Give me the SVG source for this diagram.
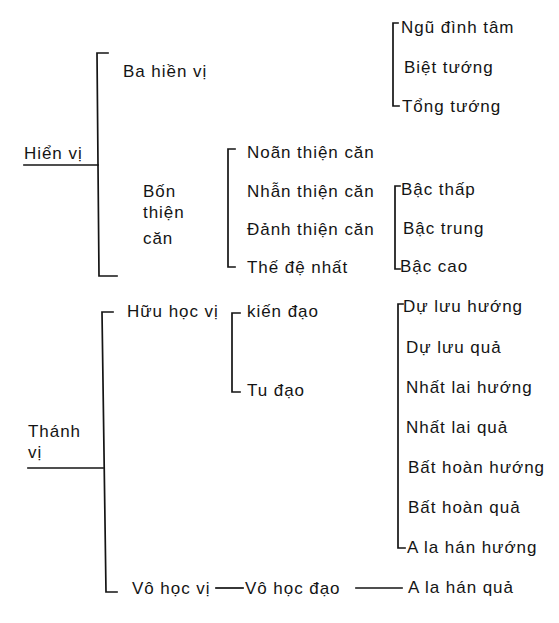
<svg xmlns="http://www.w3.org/2000/svg" width="559" height="623" viewBox="0 0 559 623">
<style>
text{font-family:"Liberation Sans","Arial",sans-serif;font-size:17px;letter-spacing:0.95px;fill:#141414}
.ln{fill:none;stroke:#141414;stroke-width:1.7;stroke-linecap:square;stroke-linejoin:miter}
</style>
<rect width="559" height="623" fill="#ffffff"/>
<g id="connectors">
  <path class="ln" d="M24,165 H98"/>
  <path class="ln" d="M108,53 H97 L99,276 H117"/>
  <path class="ln" d="M398,23 H393 V106 H399"/>
  <path class="ln" d="M235,149 H228 V267 H235"/>
  <path class="ln" d="M400,186 H395 V269 H400"/>
  <path class="ln" d="M28,468 H103"/>
  <path class="ln" d="M113,312 H102 L106,592 H117"/>
  <path class="ln" d="M240,313 H232 V392 H240"/>
  <path class="ln" d="M403,304 H398 V548 H405"/>
  <path class="ln" d="M216,588 H243"/>
  <path class="ln" d="M356,588 H402"/>
</g>
<g id="hien-vi"><text x="24" y="159">Hiển vị</text></g>
<g id="ba-hien-vi"><text x="123" y="77">Ba hiền vị</text></g>
<g id="ngu-dinh-tam"><text x="401" y="33">Ngũ đình tâm</text></g>
<g id="biet-tuong"><text x="404" y="73">Biệt tướng</text></g>
<g id="tong-tuong"><text x="402" y="112">Tổng tướng</text></g>
<g id="bon-thien-can"><text x="143" y="197">Bốn</text><text x="143" y="218">thiện</text><text x="143" y="244">căn</text></g>
<g id="noan-thien-can"><text x="247" y="158">Noãn thiện căn</text></g>
<g id="nhan-thien-can"><text x="247" y="197">Nhẫn thiện căn</text></g>
<g id="danh-thien-can"><text x="247" y="235">Đảnh thiện căn</text></g>
<g id="the-de-nhat"><text x="247" y="273">Thế đệ nhất</text></g>
<g id="bac-thap"><text x="401" y="195">Bậc thấp</text></g>
<g id="bac-trung"><text x="403" y="234">Bậc trung</text></g>
<g id="bac-cao"><text x="400" y="272">Bậc cao</text></g>
<g id="thanh-vi"><text x="28" y="437">Thánh</text><text x="28" y="458">vị</text></g>
<g id="huu-hoc-vi"><text x="127" y="317">Hữu học vị</text></g>
<g id="kien-dao"><text x="247" y="317">kiến đạo</text></g>
<g id="tu-dao"><text x="247" y="396">Tu đạo</text></g>
<g id="du-luu-huong"><text x="403" y="312">Dự lưu hướng</text></g>
<g id="du-luu-qua"><text x="406" y="353">Dự lưu quả</text></g>
<g id="nhat-lai-huong"><text x="406" y="393">Nhất lai hướng</text></g>
<g id="nhat-lai-qua"><text x="406" y="433">Nhất lai quả</text></g>
<g id="bat-hoan-huong"><text x="408" y="473">Bất hoàn hướng</text></g>
<g id="bat-hoan-qua"><text x="408" y="513">Bất hoàn quả</text></g>
<g id="a-la-han-huong"><text x="407" y="553">A la hán hướng</text></g>
<g id="vo-hoc-vi"><text x="132" y="594">Vô học vị</text></g>
<g id="vo-hoc-dao"><text x="245" y="594">Vô học đạo</text></g>
<g id="a-la-han-qua"><text x="408" y="593">A la hán quả</text></g>
</svg>
